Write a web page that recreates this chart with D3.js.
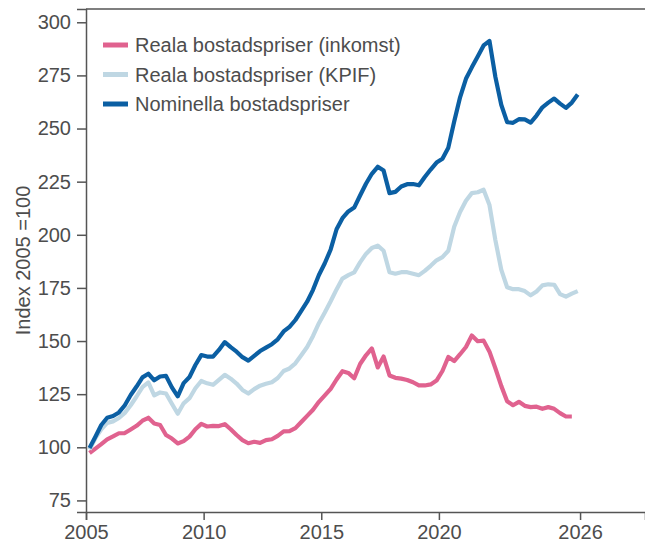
<!DOCTYPE html>
<html>
<head>
<meta charset="utf-8">
<script src="https://cdn.jsdelivr.net/npm/d3@7"></script>
<style>
  body { margin: 0; background: #fff; }
  text { font-family: "Liberation Sans", Arial, sans-serif; fill: #4d4d4d; }
</style>
</head>
<body>
<div id="chart-area"></div>
<script>
// quarterly index, 2005 = 100
const nominal = [99.7, 105, 110.5, 113.9, 114.7, 116.4, 119.8, 124.6, 128.6, 132.9, 134.6, 131.5,
  133.3, 133.6, 128.2, 124, 130.2, 133.1, 138.7, 143.4, 142.7, 142.7, 145.8, 149.5,
  147.1, 145, 142.4, 140.8, 143, 145.3, 146.9, 148.5, 150.8, 154.5, 156.7, 159.9,
  164.2, 168.5, 174.1, 181.1, 186.6, 193.1, 202.6, 207.8, 211, 212.8, 218.5, 224,
  228.7, 232, 230.2, 219.6, 220.2, 222.7, 223.8, 223.9, 223.3, 227.2, 230.7, 234,
  235.8, 241, 253.3, 264.7, 273.4, 278.8, 283.9, 289.1, 291.2, 274.3, 261.2, 253,
  252.7, 254.4, 254.3, 252.8, 256.1, 260, 262.2, 264.1, 261.7, 259.7, 262.2, 266];

const kpif = [99, 104.3, 108.4, 111.5, 112.2, 113.8, 116.2, 119.8, 123.9, 128.3, 130.5, 124.4,
  125.8, 125.3, 120.5, 115.8, 120.7, 123.1, 127.8, 131.2, 130.1, 129.4, 131.7, 134.1,
  132.3, 130, 127, 125.3, 127.4, 129, 129.9, 130.6, 132.6, 135.9, 137.1, 139.5,
  143.3, 147.2, 152.4, 158.4, 163.4, 168.7, 174.3, 179.4, 181, 182.3, 187, 191,
  193.8, 194.9, 192.5, 182.4, 181.7, 182.4, 182.4, 181.7, 181, 183, 185.4, 188,
  189.5, 192.5, 203.8, 210.7, 216, 219.6, 220, 221.2, 214, 197.5, 183.6, 175.3,
  174.4, 174.4, 173.5, 171.5, 173.3, 176.2, 176.7, 176.5, 172.1, 170.9, 172.3, 173.5];

const inkomst = [97.3, 99.4, 101.5, 103.7, 105.1, 106.6, 106.7, 108.4, 110.1, 112.5, 113.9, 111.2,
  110.5, 105.8, 104.1, 101.8, 102.9, 105, 108.5, 111, 109.8, 110.1, 110, 110.9,
  108.5, 105.8, 103.4, 101.9, 102.6, 102.1, 103.4, 103.8, 105.4, 107.5, 107.6, 109,
  111.9, 114.8, 117.7, 121.4, 124.4, 127.5, 131.9, 135.8, 135, 132.5, 139.2, 143.3,
  146.5, 137.6, 142.7, 133.8, 132.7, 132.3, 131.7, 130.6, 129.1, 129.1, 129.6, 131.4,
  135.9, 142.5, 140.6, 143.8, 147.2, 152.6, 149.9, 150.2, 145, 137.2, 128.9, 121.7,
  119.8, 121.4, 119.5, 118.9, 119.1, 118.1, 118.9, 118.1, 116.1, 114.5, 114.5];

// quarters 2005K1 .. 2025K4, placed at mid-quarter
const quarters = d3.range(84).map(i => 2005 + Math.floor(i / 4) + (i % 4) * 0.25 + 0.15);

const seriesNames = ["Reala bostadspriser (inkomst)", "Reala bostadspriser (KPIF)", "Nominella bostadspriser"];
const seriesColors = ["#e0628f", "#bfd7e3", "#0b5fa3"];
const seriesValues = [inkomst, kpif, nominal];

const xTicks = [2005, 2010, 2015, 2020, 2026];
const yTicks = [75, 100, 125, 150, 175, 200, 225, 250, 275, 300];

const W = 645, H = 547;
const margin = { top: 9, right: 0, bottom: 35, left: 86 };
const width = W - margin.left - margin.right;
const height = H - margin.top - margin.bottom;

const svg = d3.select('#chart-area')
    .append('svg')
    .attr("width", W)
    .attr("height", H);

const g = svg.append("g")
    .attr("transform", `translate(${margin.left}, ${margin.top})`);

const x = d3.scaleLinear()
    .domain([2005, 2028.76])
    .range([0, width]);

const y = d3.scaleLinear()
    .domain([69.55, 306.25])
    .range([height, 0]);

const axisColor = "#555";

// top border of the frame
g.append("line")
    .attr("x1", 0).attr("x2", width)
    .attr("y1", 0).attr("y2", 0)
    .attr("stroke", axisColor)
    .attr("stroke-width", 1.5);

const xAxis = g.append("g")
    .attr("transform", `translate(0, ${height})`)
    .call(d3.axisBottom(x).tickValues(xTicks).tickFormat(d3.format("d")).tickSizeOuter(0).tickSize(8).tickPadding(5));

const yAxis = g.append("g")
    .call(d3.axisLeft(y).tickValues(yTicks).tickSizeOuter(0).tickSize(9).tickPadding(6));

[xAxis, yAxis].forEach(a => {
    a.selectAll("path, line").attr("stroke", axisColor).attr("stroke-width", 1.5);
    a.selectAll("text").style("font-size", "20px").attr("fill", "#4d4d4d");
});

svg.append("text")
    .attr("transform", `translate(30, ${margin.top + height / 2}) rotate(-90)`)
    .attr("text-anchor", "middle")
    .style("font-size", "20px")
    .text("Index 2005 =100");

const line = d3.line()
    .x((d, i) => x(quarters[i]))
    .y(d => y(d));

seriesValues.forEach((vals, k) => {
    g.append("path")
        .datum(vals)
        .attr("fill", "none")
        .attr("stroke", seriesColors[k])
        .attr("stroke-width", 4.2)
        .attr("stroke-linejoin", "round")
        .attr("d", line);
});

// legend
const legend = svg.append("g").attr("transform", "translate(103, 45)");
seriesNames.forEach((name, k) => {
    const row = legend.append("g").attr("transform", `translate(0, ${k * 29.5})`);
    row.append("line")
        .attr("x1", 0).attr("x2", 25)
        .attr("stroke", seriesColors[k])
        .attr("stroke-width", 5);
    row.append("text")
        .attr("x", 32)
        .attr("dy", "0.35em")
        .style("font-size", "20px")
        .text(name);
});
</script>
</body>
</html>
